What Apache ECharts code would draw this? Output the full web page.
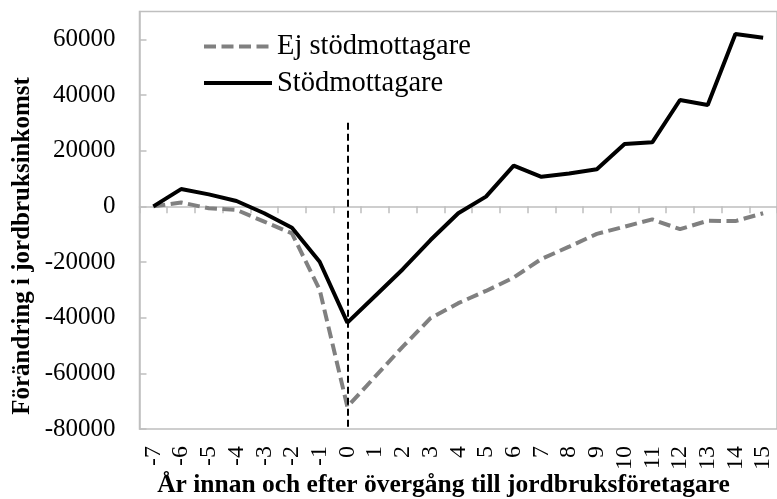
<!DOCTYPE html>
<html>
<head>
<meta charset="utf-8">
<script src="https://cdn.jsdelivr.net/npm/echarts@6/dist/echarts.min.js"></script>
<style>
html,body{margin:0;padding:0;background:#fff;}
#chart{width:777px;height:499px;}
</style>
</head>
<body>
<div id="chart"></div>
<script>
// ---- data ----
const years = ['-7','-6','-5','-4','-3','-2','-1','0','1','2','3','4','5','6','7','8','9','10','11','12','13','14','15'];
const ejStod = [0, 1400, -700, -1300, -5500, -9700, -30000, -72000, -61200, -50400, -40200, -34800, -30400, -25600, -18900, -14500, -9900, -7300, -4700, -8200, -5200, -5300, -2500];
const stod = [0, 6200, 4300, 1900, -2500, -7700, -19900, -41800, -32200, -22600, -12100, -2500, 3500, 14600, 10600, 11800, 13300, 22400, 23000, 38200, 36400, 61900, 60600];
const seriesNames = ['Ej stödmottagare', 'Stödmottagare'];
const markYear = '0';
const markTop = 30000;
const yMin = -80000, yMax = 70000, yStep = 20000;
const xTitle = 'År innan och efter övergång till jordbruksföretagare';
const yTitle = 'Förändring i jordbruksinkomst';

const FONT = '"Liberation Serif", "Times New Roman", serif';
const chart = echarts.init(document.getElementById('chart'), null, {renderer: 'canvas'});
chart.setOption({
  animation: false,
  backgroundColor: '#ffffff',
  grid: {
    left: 139.5, top: 11.5, bottom: 70, right: -14,
    show: true, borderColor: '#bfbfbf', borderWidth: 1.5, backgroundColor: 'transparent'
  },
  legend: {
    orient: 'vertical',
    left: 197, top: 26.5,
    itemWidth: 68, itemHeight: 30, itemGap: 6.6,
    itemStyle: {opacity: 0, borderWidth: 0},
    lineStyle: {width: 4},
    textStyle: {fontFamily: FONT, fontSize: 28.5, color: '#000', lineHeight: 30},
    data: seriesNames
  },
  xAxis: {
    type: 'category',
    data: years,
    boundaryGap: true,
    axisLine: {lineStyle: {color: '#bfbfbf', width: 1.5}},
    axisTick: {show: true, length: 7, lineStyle: {color: '#bfbfbf', width: 1.5}},
    axisLabel: {rotate: 90, margin: 17, fontFamily: FONT, fontSize: 24, color: '#000', interval: 0},
    splitLine: {show: false}
  },
  yAxis: {
    type: 'value',
    min: yMin, max: yMax, interval: yStep,
    axisLine: {show: true, lineStyle: {color: '#bfbfbf', width: 1.5}},
    axisTick: {show: true, inside: true, length: 7, lineStyle: {color: '#bfbfbf', width: 1.5}},
    axisLabel: {margin: 24, fontFamily: FONT, fontSize: 25, color: '#000', showMaxLabel: false,
      formatter: function (v) { return String(v); }},
    splitLine: {show: false}
  },
  graphic: [
    {
      type: 'text', x: 23, y: 246, rotation: Math.PI / 2,
      style: {text: yTitle, fontFamily: FONT, fontSize: 25, fontWeight: 'bold', fill: '#000', align: 'center', verticalAlign: 'middle'}
    },
    {
      type: 'text', x: 443.5, y: 485,
      style: {text: xTitle, fontFamily: FONT, fontSize: 25.5, fontWeight: 'bold', fill: '#000', align: 'center', verticalAlign: 'middle'}
    }
  ],
  series: [
    {
      name: seriesNames[0], type: 'line', data: ejStod,
      symbol: 'none',
      lineStyle: {color: '#808080', width: 4, type: [12, 5.5], cap: 'butt'},
      itemStyle: {color: '#808080'},
      markLine: {
        silent: true, symbol: 'none', animation: false,
        label: {show: false},
        lineStyle: {color: '#000', width: 2, type: [7, 4]},
        data: [[{coord: [markYear, markTop]}, {coord: [markYear, yMin]}]]
      }
    },
    {
      name: seriesNames[1], type: 'line', data: stod,
      symbol: 'none',
      lineStyle: {color: '#000', width: 4},
      itemStyle: {color: '#000'}
    }
  ]
});
</script>
</body>
</html>
